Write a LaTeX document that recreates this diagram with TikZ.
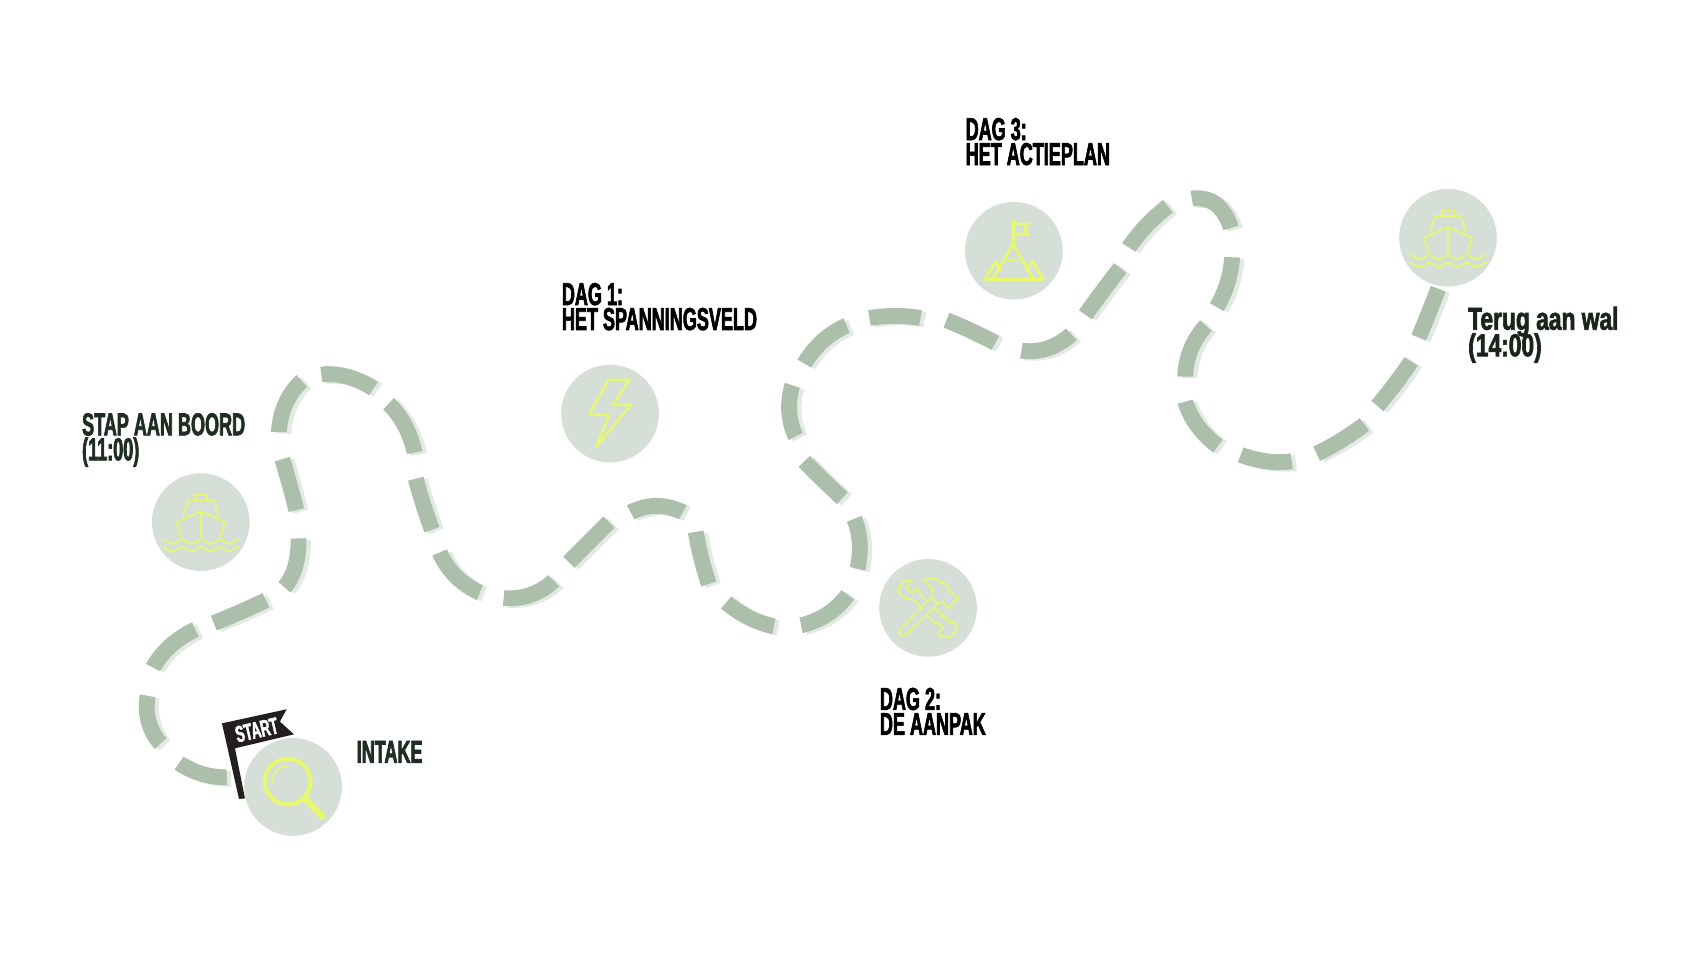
\documentclass[tikz,border=0pt]{standalone}
\usepackage{xcolor}
\usepackage{fontspec}
\usepackage{tikz}
\newfontfamily\labelfont[FakeStretch=0.57,FakeBold=2]{Liberation Sans Bold}
\newfontfamily\widelabelfont[FakeStretch=0.72,FakeBold=2]{Liberation Sans Bold}
\normallineskiplimit=-100pt
\definecolor{trailgreen}{HTML}{ABBFAA}
\definecolor{trailshade}{HTML}{E3EAE4}
\definecolor{iconback}{HTML}{D5DFD8}
\definecolor{iconline}{HTML}{E8F770}
\definecolor{flagblack}{HTML}{231F20}
\definecolor{labelgreen}{HTML}{1F2E22}
\tikzset{
  trail/.style = {trailgreen, line width = 4.5pt},
  trailback/.style = {trailshade, line width = 4.5pt, shift = {(4,1.5)}},
  iconcircle/.style = {circle, fill = iconback, minimum size = 9.77mm, inner sep = 0pt},
  iconstroke/.style = {iconline, line width = 0.5pt, line join = round, line cap = round},
  daylabel/.style = {anchor = north west, inner sep = 0pt, align = left, font = \labelfont\fontsize{9}{7.1}\selectfont}
}
\newcommand{\trailpiece}[3]{
  \draw[trailback] plot[smooth, tension = 1] coordinates {#1 #2 #3};
  \draw[trail] plot[smooth, tension = 1] coordinates {#1 #2 #3};
}
\newcommand{\shipicon}{
  \draw[iconstroke] (-5.5,-20) rectangle (6,-25);
  \draw[iconstroke] (-16,-6) -- (-12,-20) -- (12,-20) -- (16,-6);
  \draw[iconstroke] (-18,14) -- (-22,0) -- (0,-10) -- (22,0) -- (18,14);
  \draw[iconstroke] (0,-10) -- (0,14);
  \draw[iconstroke] plot[smooth, domain = -35:35, samples = 41] (\x,{18-2*cos(\x*360/17.5)});
  \draw[iconstroke] plot[smooth, domain = -35:35, samples = 41] (\x,{25-2*cos(\x*360/17.5)});
}
\begin{document}
\begin{tikzpicture}[x = 0.010855cm, y = -0.010855cm]
  \useasboundingbox (0,0) rectangle (1568,881.7);
  % Pad
  \trailpiece{(209,716)}{(186,713)}{(165,703)}
  \trailpiece{(148,685)}{(137,665)}{(136,641)}
  \trailpiece{(141,615)}{(157,595)}{(180,580)}
  \trailpiece{(197,574)}{(221,564)}{(245,553)}
  \trailpiece{(262,541)}{(272,522)}{(275,496)}
  \trailpiece{(273,470)}{(267,447)}{(260,423)}
  \trailpiece{(257,398)}{(263,372)}{(278,351)}
  \trailpiece{(296,345)}{(320,347)}{(344,358)}
  \trailpiece{(358,372)}{(373,392)}{(382,417)}
  \trailpiece{(383,441)}{(390,465)}{(398,488)}
  \trailpiece{(405,509)}{(420,531)}{(442,546)}
  \trailpiece{(464,551)}{(489,548)}{(510,535)}
  \trailpiece{(524,518)}{(542,500)}{(561,481)}
  \trailpiece{(581,472)}{(605,466)}{(629,472)}
  \trailpiece{(641,490)}{(646,514)}{(653,538)}
  \trailpiece{(669,555)}{(690,569)}{(713,577)}
  \trailpiece{(738,576)}{(762,566)}{(781,548)}
  \trailpiece{(790,524)}{(792,500)}{(787,478)}
  \trailpiece{(776,459)}{(758,442)}{(741,425)}
  \trailpiece{(733,402)}{(727,379)}{(730,355)}
  \trailpiece{(741,335)}{(758,314)}{(780,300)}
  \trailpiece{(801,293)}{(825,291)}{(848,293)}
  \trailpiece{(872,295)}{(895,305)}{(917,316)}
  \trailpiece{(941,323)}{(965,321)}{(987,308)}
  \trailpiece{(1000,290)}{(1016,268)}{(1032,247)}
  \trailpiece{(1040,228)}{(1056,208)}{(1076,190)}
  \trailpiece{(1098,183)}{(1120,188)}{(1134,210)}
  \trailpiece{(1135,237)}{(1131,260)}{(1121,283)}
  \trailpiece{(1111,300)}{(1097,322)}{(1092,347)}
  \trailpiece{(1092,370)}{(1103,392)}{(1122,411)}
  \trailpiece{(1143,419)}{(1167,425)}{(1190,425)}
  \trailpiece{(1213,418)}{(1235,406)}{(1257,391)}
  \trailpiece{(1269,374)}{(1285,354)}{(1300,333)}
  \trailpiece{(1307,311)}{(1316,289)}{(1325,266)}
  % Cirkels
  \node[iconcircle] (intakecircle) at (270,725) {};
  \node[iconcircle] (boardcircle) at (185,481) {};
  \node[iconcircle] (dayonecircle) at (562,381) {};
  \node[iconcircle] (daytwocircle) at (855,560) {};
  \node[iconcircle] (daythreecircle) at (934,231) {};
  \node[iconcircle] (shorecircle) at (1334,219) {};
  % Vlag
  \fill[flagblack] (204.5,666.4) -- (264.1,653.4) -- (257.9,664.8) -- (270.8,676.5) -- (216.5,689.4) -- (225.7,735.5) -- (220.2,736.1) -- cycle;
  \node[rotate = 13, white, inner sep = 0pt, font = \labelfont\fontsize{6.6}{7}\selectfont] (startlabel) at (236.5,672.5) {START};
  % Loep
  \begin{scope}[shift = {(270,725)}]
    \draw[iconstroke, line width = 1.2pt] (-5,-5) circle (21);
    \draw[iconstroke, line width = 1.8pt] (11,10.5) -- (27,27);
    \draw[iconstroke] (-19,-4) .. controls (-19,-13) and (-14,-19) .. (-6,-19);
  \end{scope}
  % Boten
  \begin{scope}[shift = {(185,481)}]
    \shipicon
  \end{scope}
  \begin{scope}[shift = {(1334,219)}]
    \shipicon
  \end{scope}
  % Bliksem
  \draw[iconstroke, line width = 0.7pt, shift = {(562,381)}] (-1.5,-31) -- (18,-31) -- (2.5,-8) -- (19,-8) -- (-13,31) -- (-1,1.5) -- (-19,0.6) -- cycle;
  % Gereedschap
  \begin{scope}[shift = {(855,560)}]
    \draw[iconstroke] (-21.5,-25.5) -- (-15,-25) -- (-20,-19) -- (-15,-14) -- (-9,-18) -- (-7,-12) -- (10,4) .. controls (14,8) and (18,11) .. (20,14) -- (24.5,13) .. controls (28,19) and (25,24) .. (20,26.7) .. controls (15,28) and (10,26) .. (9,23.6) -- (14,18) -- (9,14) -- (6,14.4) -- (-10,-4) .. controls (-12,-8) and (-15,-8) .. (-18,-8) .. controls (-23,-9) and (-29,-14) .. (-27.6,-18) -- cycle;
    \draw[iconstroke, fill = iconback] (-26,20) -- (3,-9.5) -- (9,-4) -- (-20.5,24.5) .. controls (-24,28) and (-29,23) .. (-26,20) -- cycle;
    \draw[iconstroke, fill = iconback] (-4,-26) -- (6,-27) -- (17.5,-21) -- (20,-15) -- (28,-9.5) -- (18.5,0.6) -- (14,-5.5) -- (9,-4) -- (3,-9.5) -- (4.6,-16) -- cycle;
  \end{scope}
  % Berg
  \begin{scope}[shift = {(934,231)}]
    \draw[iconstroke, line width = 0.8pt] (-0.6,-6) -- (-0.6,-27.6);
    \draw[iconstroke, line width = 0.8pt] (-0.6,-24.5) -- (13.8,-24.5) -- (9.8,-20) -- (13.8,-15.3) -- (-0.6,-15.3);
    \draw[iconstroke, line width = 0.8pt] (-20,26.4) -- (-0.6,-6) -- (18,26.4);
    \draw[iconstroke, line width = 0.8pt] (-27,26.4) -- (27,26.4);
    \draw[iconstroke, line width = 0.8pt] (-27,26.4) -- (-17,10) -- (-12,18);
    \draw[iconstroke, line width = 0.8pt] (27,26.4) -- (17,9) -- (11.6,18);
    \draw[iconstroke, dashed] (-7.6,9) -- (9,9);
  \end{scope}
  % Teksten
  \node[daylabel, labelgreen] (intakelabel) at (328,682) {INTAKE};
  \node[daylabel, labelgreen] (boardlabel) at (75,380) {STAP AAN BOORD\\(11:00)};
  \node[daylabel, black] (dayonelabel) at (517,260) {DAG 1:\\HET SPANNINGSVELD};
  \node[daylabel, black] (daytwolabel) at (810,633) {DAG 2:\\DE AANPAK};
  \node[daylabel, black] (daythreelabel) at (889,108) {DAG 3:\\HET ACTIEPLAN};
  \node[daylabel, labelgreen!80!black, font = \widelabelfont\fontsize{9}{7.1}\selectfont] (shorelabel) at (1352,282) {Terug aan wal\\[-1.9pt](14:00)};
\end{tikzpicture}
\end{document}
